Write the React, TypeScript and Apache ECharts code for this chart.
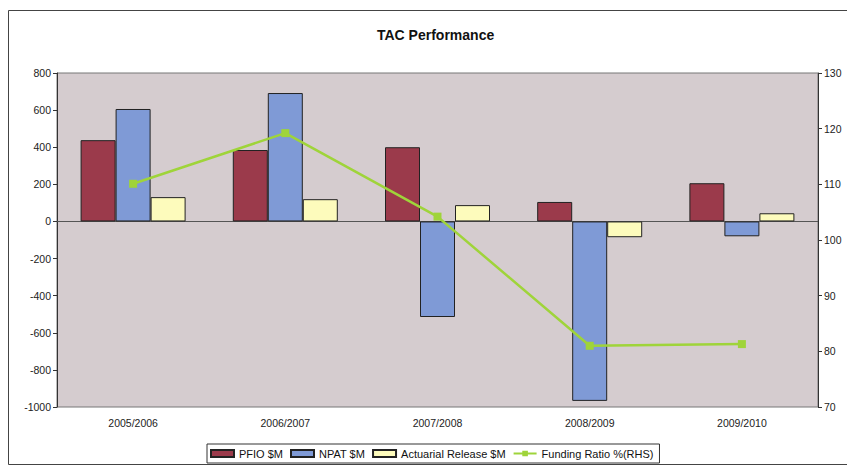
import React, { useEffect, useRef } from "react";
import * as echarts from "echarts";

const categories = ["2005/2006", "2006/2007", "2007/2008", "2008/2009", "2009/2010"];
const pfio = [438, 385, 400, 105, 206];
const npat = [606, 692, -515, -967, -80];
const actuarial = [131, 120, 88, -85, 44];
const fundingRatio = [110.1, 119.2, 104.2, 81.0, 81.3];

export default function App() {
  const ref = useRef<HTMLDivElement>(null);
  useEffect(() => {
    if (!ref.current) return;
    const chart = echarts.init(ref.current, null, { renderer: "svg" });
    const font = "Liberation Sans, Arial, sans-serif";
    chart.setOption({
      animation: false,
      backgroundColor: "#ffffff",
      textStyle: { fontFamily: font },
      title: {
        text: "TAC Performance",
        left: 372,
        top: 23,
        textStyle: { fontSize: 14, fontWeight: "bold", color: "#111", fontFamily: font },
      },
      graphic: [
        {
          type: "rect",
          shape: { x: 8.5, y: 10.5, width: 850, height: 454 },
          style: { fill: "none", stroke: "#444", lineWidth: 1 },
          silent: true,
          z: 0,
        },
      ],
      grid: {
        left: 57,
        right: 29,
        top: 73,
        bottom: 59,
        show: true,
        backgroundColor: "#d5cccf",
        borderColor: "#777",
        borderWidth: 1,
      },
      legend: {
        top: 444,
        left: 207,
        data: [
          { name: "PFIO $M", icon: "rect" },
          { name: "NPAT $M", icon: "rect" },
          { name: "Actuarial Release $M", icon: "rect" },
          { name: "Funding Ratio %(RHS)" },
        ],
        borderColor: "#333",
        borderWidth: 1,
        padding: [4, 6, 4, 3],
        itemGap: 7,
        itemWidth: 23,
        itemHeight: 7,
        textStyle: { fontSize: 11, color: "#111", fontFamily: font },
      },
      xAxis: {
        type: "category",
        data: categories,
        axisLine: { show: false },
        axisTick: { show: false },
        axisLabel: { fontSize: 10.5, color: "#222", margin: 10, fontFamily: font },
        splitLine: { show: false },
      },
      yAxis: [
        {
          type: "value",
          min: -1000,
          max: 800,
          interval: 200,
          axisLine: { show: true, lineStyle: { color: "#333" } },
          axisTick: { show: true, length: 4, lineStyle: { color: "#333" } },
          axisLabel: {
            fontSize: 10.5,
            color: "#222",
            margin: 6,
            fontFamily: font,
            formatter: (v: number) => String(v),
          },
          splitLine: { show: false },
        },
        {
          type: "value",
          min: 70,
          max: 130,
          interval: 10,
          position: "right",
          axisLine: { show: true, lineStyle: { color: "#333" } },
          axisTick: { show: true, length: 4, lineStyle: { color: "#333" } },
          axisLabel: { fontSize: 10.5, color: "#222", margin: 6, fontFamily: font },
          splitLine: { show: false },
        },
      ],
      series: [
        {
          name: "PFIO $M",
          type: "bar",
          data: pfio,
          barWidth: 35,
          barGap: "0%",
          itemStyle: { color: "#9b3a4b", borderColor: "#222", borderWidth: 1 },
          markLine: {
            silent: true,
            symbol: "none",
            label: { show: false },
            lineStyle: { color: "#555", width: 1, type: "solid" },
            data: [{ yAxis: 0 }],
            z: 1,
          },
        },
        {
          name: "NPAT $M",
          type: "bar",
          data: npat,
          barWidth: 35,
          barGap: "0%",
          itemStyle: { color: "#7f9ad6", borderColor: "#222", borderWidth: 1 },
        },
        {
          name: "Actuarial Release $M",
          type: "bar",
          data: actuarial,
          barWidth: 35,
          barGap: "0%",
          itemStyle: { color: "#fdfbbc", borderColor: "#222", borderWidth: 1 },
        },
        {
          name: "Funding Ratio %(RHS)",
          type: "line",
          yAxisIndex: 1,
          data: fundingRatio,
          symbol: "rect",
          symbolSize: 8,
          itemStyle: { color: "#9fd43a" },
          lineStyle: { color: "#9fd43a", width: 2.5 },
          z: 5,
        },
      ],
    });
    return () => chart.dispose();
  }, []);
  return (
    <div
      ref={ref}
      style={{ position: "fixed", left: 0, top: 0, width: 847, height: 466 }}
    />
  );
}
